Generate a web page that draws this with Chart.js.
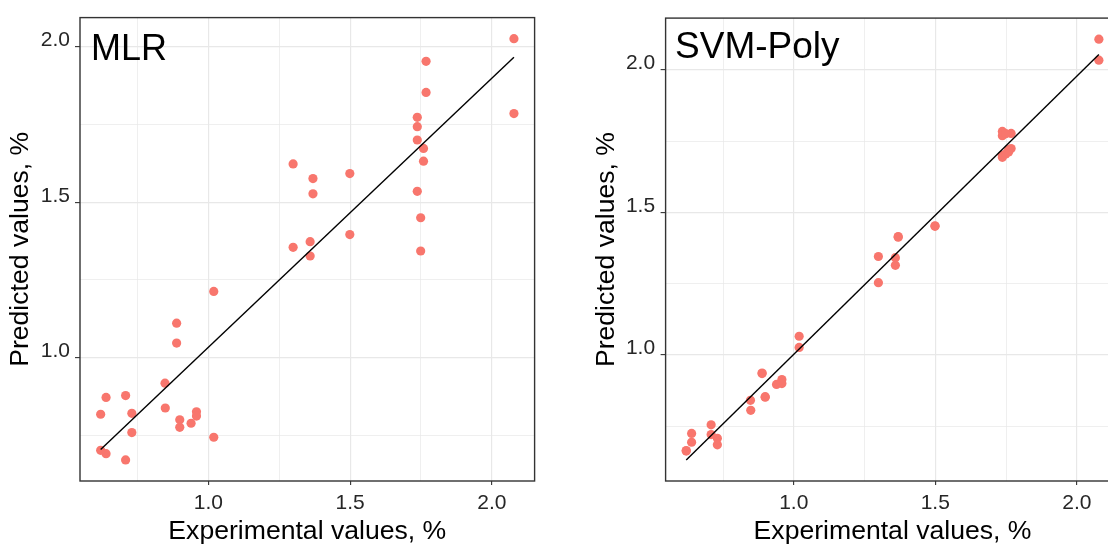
<!DOCTYPE html>
<html><head><meta charset="utf-8">
<script src="https://cdn.jsdelivr.net/npm/chart.js@4.4.1/dist/chart.umd.min.js"></script>
<style>
html,body{margin:0;padding:0;background:#fff;overflow:hidden;width:1108px;height:544px;}
#wrap{position:relative;width:1108px;height:544px;overflow:hidden;background:#fff;}
canvas{position:absolute;top:0;}
#c1{left:0;}
#c2{left:560px;}
</style></head><body>
<div id="wrap"><canvas id="c1" width="556" height="544"></canvas><canvas id="c2" width="580" height="544"></canvas></div>
<script>
// ---- data ----
const experimental = [2.078, 2.078, 1.768, 1.768, 1.737, 1.737, 1.737, 1.737, 1.759, 1.759,
  1.749, 1.749, 1.299, 1.299, 1.369, 1.369, 1.499, 1.499, 1.359, 1.359,
  1.019, 1.019, 0.888, 0.888, 0.847, 0.848, 0.639, 0.639, 0.708, 0.708,
  0.620, 0.620, 0.730, 0.730, 0.958, 0.958, 0.899, 0.899, 0.939];
const predictedMLR = [2.026, 1.785, 1.953, 1.853, 1.773, 1.743, 1.700, 1.535, 1.673, 1.632,
  1.450, 1.343, 1.623, 1.355, 1.576, 1.527, 1.592, 1.396, 1.373, 1.327,
  1.213, 0.744, 1.111, 1.047, 0.918, 0.838, 0.872, 0.691, 0.878, 0.671,
  0.818, 0.702, 0.821, 0.759, 0.826, 0.812, 0.800, 0.776, 0.789];
const predictedSVM = [2.108, 2.034, 1.777, 1.724, 1.784, 1.769, 1.700, 1.693, 1.712, 1.720,
  1.705, 1.776, 1.345, 1.253, 1.415, 1.413, 1.453, 1.451, 1.341, 1.314,
  1.065, 1.026, 0.936, 0.934, 0.840, 0.805, 0.724, 0.693, 0.754, 0.720,
  0.664, 0.662, 0.707, 0.684, 0.913, 0.899, 0.853, 0.851, 0.896];
const panelTitles = ['MLR', 'SVM-Poly'];
const gridTicks = [0.75, 1.0, 1.25, 1.5, 1.75, 2.0];
const majorTicks = [1.0, 1.5, 2.0];
const xAxisTitle = 'Experimental values, %';
const yAxisTitle = 'Predicted values, %';

const FONT = "'Liberation Sans', Arial, Helvetica, sans-serif";
Chart.defaults.font.family = FONT;

function linearFit(xs, ys) {
  const n = xs.length;
  const mx = xs.reduce((a, b) => a + b, 0) / n;
  const my = ys.reduce((a, b) => a + b, 0) / n;
  let sxy = 0, sxx = 0;
  for (let i = 0; i < n; i++) { sxy += (xs[i] - mx) * (ys[i] - my); sxx += (xs[i] - mx) ** 2; }
  const b = sxy / sxx;
  return { a: my - b * mx, b };
}

const isMajor = ctx => !!(ctx.tick && majorTicks.includes(ctx.tick.value));

function makePanel(id, ys, title, g) {
  const fit = linearFit(experimental, ys);
  const xMin = Math.min(...experimental), xMax = Math.max(...experimental);
  const fitLine = [{ x: xMin, y: fit.a + fit.b * xMin }, { x: xMax, y: fit.a + fit.b * xMax }];
  const yLo = Math.min(...ys, fitLine[0].y, fitLine[1].y);
  const yHi = Math.max(...ys, fitLine[0].y, fitLine[1].y);
  const xPad = (xMax - xMin) * 0.05, yPad = (yHi - yLo) * 0.05;
  const points = experimental.map((x, i) => ({ x, y: ys[i] }));

  const gridOpts = {
    color: ctx => '#E8E8E8',
    lineWidth: ctx => isMajor(ctx) ? 1.2 : 0.7,
    tickColor: ctx => isMajor(ctx) ? '#333333' : 'rgba(0,0,0,0)',
    tickWidth: 1.1,
    drawTicks: true
  };

  const framePlugin = {
    id: 'frame' + id,
    afterDraw(chart) {
      const { ctx, chartArea: a } = chart;
      ctx.save();
      ctx.strokeStyle = '#333333';
      ctx.lineWidth = 1.4;
      ctx.strokeRect(a.left, a.top, a.right - a.left, a.bottom - a.top);
      ctx.fillStyle = '#000';
      ctx.font = g.titleSize + 'px ' + FONT;
      ctx.textAlign = 'left';
      ctx.textBaseline = 'alphabetic';
      ctx.fillText(title, a.left + g.titleDx, a.top + g.titleDy);
      ctx.restore();
    }
  };

  return new Chart(document.getElementById(id), {
    type: 'scatter',
    data: {
      datasets: [
        { data: fitLine, showLine: true, borderColor: '#000', borderWidth: 1.4, pointRadius: 0, fill: false, order: 0 },
        { data: points, backgroundColor: '#F8766D', borderWidth: 0, pointRadius: 4.6, pointHoverRadius: 4.6, order: 1 }
      ]
    },
    options: {
      responsive: false,
      animation: false,
      events: [],
      layout: { padding: { left: 0, top: 15, right: g.rightPad, bottom: 0 } },
      plugins: { legend: { display: false }, tooltip: { enabled: false } },
      scales: {
        x: {
          type: 'linear',
          min: xMin - xPad, max: xMax + xPad,
          afterBuildTicks: s => { s.ticks = gridTicks.map(v => ({ value: v })); },
          afterFit: s => { s.height = 63; },
          grid: Object.assign({ tickLength: 4 }, gridOpts),
          border: { display: false },
          ticks: {
            autoSkip: false, maxRotation: 0, padding: 5.5, color: '#262626',
            font: { size: 21 },
            callback: v => majorTicks.includes(v) ? v.toFixed(1) : ''
          },
          title: { display: true, text: xAxisTitle, color: '#000', font: { size: 26.6 }, padding: { top: 0, bottom: -3.3 } }
        },
        y: {
          type: 'linear',
          min: yLo - yPad, max: yHi + yPad,
          afterBuildTicks: s => { s.ticks = gridTicks.map(v => ({ value: v })); },
          afterFit: s => { s.width = g.yWidth; },
          grid: Object.assign({ tickLength: 5 }, gridOpts),
          border: { display: false },
          ticks: {
            autoSkip: false, padding: g.yTickPad, color: '#262626', labelOffset: -6.3,
            font: { size: 21 },
            callback: v => majorTicks.includes(v) ? v.toFixed(1) : ''
          },
          title: { display: true, text: yAxisTitle, color: '#000', font: { size: 26.6 }, padding: { top: g.yTitlePad, bottom: 0 } }
        }
      }
    },
    plugins: [framePlugin]
  });
}

makePanel('c1', predictedMLR, panelTitles[0], { yWidth: 80, rightPad: 21.4, yTickPad: 5, yTitlePad: 4.8, titleDx: 11, titleDy: 42, titleSize: 36 });
makePanel('c2', predictedSVM, panelTitles[1], { yWidth: 105.6, rightPad: 20.5, yTickPad: 5.5, yTitlePad: 30.8, titleDx: 9.5, titleDy: 40, titleSize: 37 });
</script>
</body></html>
